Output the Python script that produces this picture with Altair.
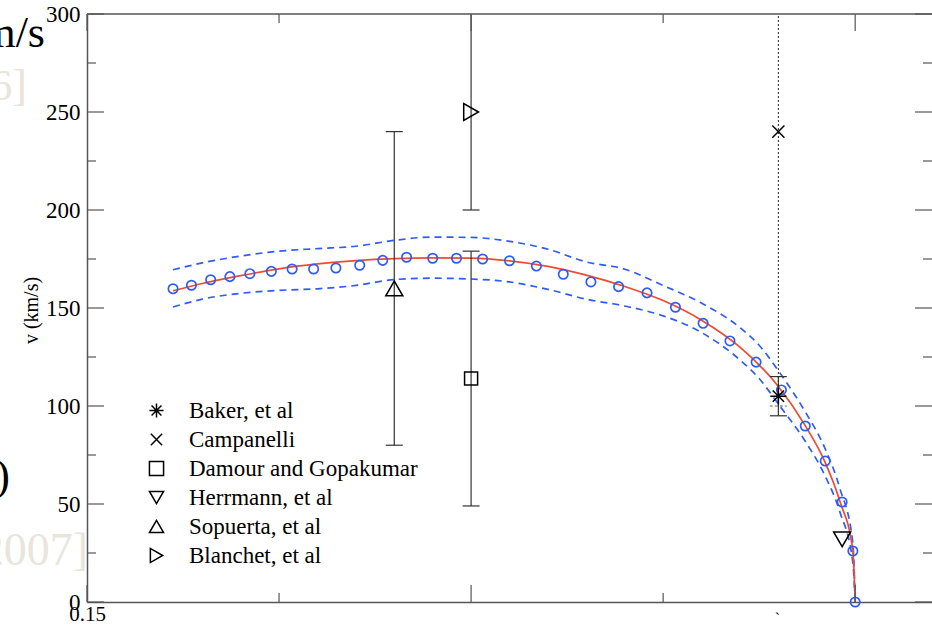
import altair as alt
import pandas as pd

W, H = 845, 588
BLUE = "#2f5cf5"
RED = "#ee4b33"
AXC = "#555555"
BAR = "#333333"
SERIF = "Liberation Serif"

# ---------------- data ----------------
# model points (blue open circles)
eta_pts = [0.1612, 0.1636, 0.1661, 0.1686, 0.1712, 0.1740, 0.1767, 0.1795, 0.1824,
           0.1855, 0.1885, 0.1916, 0.1950, 0.1981, 0.2015, 0.2050, 0.2085, 0.2120,
           0.2156, 0.2192, 0.2229, 0.2266, 0.2302, 0.2337, 0.2371, 0.2404, 0.2435,
           0.2461, 0.2483, 0.2497, 0.2500]
v_pts = [159.8, 161.6, 164.4, 166.0, 167.5, 168.7, 169.9, 169.9, 170.4,
         171.8, 174.3, 175.9, 175.4, 175.4, 175.0, 174.1, 171.4, 167.2,
         163.3, 160.9, 157.7, 150.4, 142.2, 133.2, 122.4, 108.2, 89.8,
         71.9, 51.0, 26.0, 0.0]

# fitted curve (red)
eta_fit = [0.1612, 0.165, 0.170, 0.175, 0.180, 0.185, 0.190, 0.195, 0.200, 0.205,
           0.210, 0.215, 0.220, 0.225, 0.230, 0.235, 0.240, 0.2435, 0.246, 0.248,
           0.2497, 0.250]
v_fit = [158.8, 162.5, 166.5, 170.0, 172.5, 174.2, 175.2, 175.6, 175.4, 174.0,
         171.2, 166.8, 161.0, 153.8, 143.8, 130.0, 110.0, 90.0, 72.0, 51.5,
         26.0, 0.0]

# error band (blue dashed)
eta_band = [0.1612, 0.165, 0.170, 0.175, 0.180, 0.185, 0.190, 0.195, 0.200, 0.205,
            0.210, 0.215, 0.220, 0.225, 0.230, 0.235, 0.2375, 0.240, 0.2435, 0.246,
            0.248, 0.2497, 0.250]
v_upper = [169.5, 173.0, 176.5, 179.0, 180.3, 181.5, 184.5, 186.2, 186.0, 184.0,
           180.0, 173.5, 169.8, 161.5, 152.5, 140.0, 131.0, 118.0, 97.0, 79.0,
           58.0, 30.0, 0.0]
v_lower = [150.5, 154.5, 157.5, 159.0, 159.8, 161.5, 164.5, 165.2, 164.8, 163.3,
           159.5, 154.5, 151.0, 146.0, 137.5, 123.5, 114.0, 101.0, 82.0, 65.0,
           46.0, 20.0, 0.0]

# other results
study = ["Baker, et al", "Campanelli", "Damour and Gopakumar",
         "Herrmann, et al", "Sopuerta, et al", "Blanchet, et al"]
study_eta = [0.240, 0.240, 0.200, 0.2483, 0.190, 0.200]
study_v = [105, 240, 114, 32, 160, 250]

bar_eta = [0.240, 0.200, 0.190, 0.200]
bar_lo = [95, 49, 80, 200]
bar_hi = [115, 179, 240, 300]
cap_eta = [0.240, 0.240, 0.200, 0.200, 0.190, 0.190, 0.200]
cap_v = [95, 115, 49, 179, 80, 240, 200]

dot_eta = [0.240]
dot_lo = [100]
dot_hi = [300]

y_major = [0, 50, 100, 150, 200, 250, 300]
y_minor = [25, 75, 125, 175, 225, 275]
x_major = [0.15, 0.20, 0.25]
x_minor = [0.175, 0.225]

shapes = ["M-1,0L1,0M0,-1L0,1M-0.7,-0.7L0.7,0.7M-0.7,0.7L0.7,-0.7",
          "M-0.8,-0.8L0.8,0.8M-0.8,0.8L0.8,-0.8",
          "square", "triangle-down", "triangle-up", "triangle-right"]
# marker size per group of studies
size_groups = [(["Baker, et al"], 260),
               (["Campanelli"], 230),
               (["Damour and Gopakumar"], 170),
               (["Herrmann, et al", "Sopuerta, et al", "Blanchet, et al"], 290)]

# ---------------- chart ----------------
xs = alt.Scale(domain=[0.15, 0.26], nice=False, zero=False)
ys = alt.Scale(domain=[0, 300], nice=False, zero=False)

pts_df = pd.DataFrame({"eta": eta_pts, "v": v_pts})
fit_df = pd.DataFrame({"eta": eta_fit, "v": v_fit})
band_df = pd.DataFrame({
    "eta": eta_band + eta_band,
    "v": v_upper + v_lower,
    "which": ["upper"] * len(eta_band) + ["lower"] * len(eta_band),
})
st_df = pd.DataFrame({"study": study, "eta": study_eta, "v": study_v})
bar_df = pd.DataFrame({"eta": bar_eta, "lo": bar_lo, "hi": bar_hi})
cap_df = pd.DataFrame({"eta": cap_eta, "v": cap_v})
dot_df = pd.DataFrame({"eta": dot_eta, "lo": dot_lo, "hi": dot_hi})

x_axis = alt.Axis(values=[0.15], format=".2f", ticks=False, grid=False,
                  domainColor=AXC, domainWidth=1.5, labelFont=SERIF,
                  labelFontSize=21, labelColor="black", labelPadding=1,
                  labelFlush=False, labelBaseline="top", title=None)
y_axis = alt.Axis(values=y_major, ticks=False, grid=False, domainColor=AXC,
                  domainWidth=1.5, labelFont=SERIF, labelFontSize=23,
                  labelColor="black", labelPadding=7, labelFlush=False,
                  title="v (km/s)", titleFont=SERIF, titleFontSize=20,
                  titleFontWeight="normal", titleColor="black",
                  titleAngle=-90, titleAlign="center", titleBaseline="middle",
                  titleX=-56, titleY=296)

band = alt.Chart(band_df).mark_line(
    color=BLUE, strokeDash=[7, 5], strokeWidth=1.7, interpolate="monotone"
).encode(
    x=alt.X("eta:Q", scale=xs, axis=x_axis),
    y=alt.Y("v:Q", scale=ys, axis=y_axis),
    detail="which:N",
)

fit = alt.Chart(fit_df).mark_line(
    color=RED, strokeWidth=1.7, interpolate="monotone"
).encode(x=alt.X("eta:Q", scale=xs), y=alt.Y("v:Q", scale=ys))

pts = alt.Chart(pts_df).mark_point(
    shape="circle", filled=False, size=88, strokeWidth=1.7, color=BLUE, opacity=1
).encode(x=alt.X("eta:Q", scale=xs), y=alt.Y("v:Q", scale=ys))

bars = alt.Chart(bar_df).mark_rule(color=BAR, strokeWidth=1.2).encode(
    x=alt.X("eta:Q", scale=xs), y=alt.Y("lo:Q", scale=ys), y2="hi:Q")

caps = alt.Chart(cap_df).mark_rule(
    color=BAR, strokeWidth=1.2, xOffset=-8.5, x2Offset=8.5
).encode(x=alt.X("eta:Q", scale=xs), x2="eta:Q", y=alt.Y("v:Q", scale=ys))

dots = alt.Chart(dot_df).mark_rule(
    color="#222222", strokeWidth=1, strokeDash=[2, 2]
).encode(x=alt.X("eta:Q", scale=xs), y=alt.Y("lo:Q", scale=ys), y2="hi:Q")

dotcap = alt.Chart(dot_df).mark_rule(
    color="#666666", strokeWidth=1, strokeDash=[3, 2], xOffset=-8.5, x2Offset=8.5
).encode(x=alt.X("eta:Q", scale=xs), x2="eta:Q", y=alt.Y("lo:Q", scale=ys))

shape_scale = alt.Scale(domain=study, range=shapes)
legend = alt.Legend(
    title=None, orient="none", legendX=58, legendY=385,
    labelFont=SERIF, labelFontSize=23, labelColor="black",
    labelOffset=21, labelLimit=400, symbolSize=200,
    symbolStrokeWidth=1.5, symbolStrokeColor="black",
    rowPadding=5, padding=0, symbolFillColor="transparent",
)
marker_layers = []
for i, (names, sz) in enumerate(size_groups):
    marker_layers.append(
        alt.Chart(st_df).transform_filter(
            alt.FieldOneOfPredicate(field="study", oneOf=names)
        ).mark_point(
            filled=False, strokeWidth=1.5, color="black", opacity=1, size=sz
        ).encode(
            x=alt.X("eta:Q", scale=xs),
            y=alt.Y("v:Q", scale=ys),
            shape=alt.Shape("study:N", scale=shape_scale,
                            legend=legend if i == 0 else None),
        )
    )

tick_rows_ymaj = pd.DataFrame({"v": y_major})
tick_rows_ymin = pd.DataFrame({"v": y_minor})
tick_rows_xmaj = pd.DataFrame({"eta": x_major})
tick_rows_xmin = pd.DataFrame({"eta": x_minor})


def yticks(df, length):
    left = alt.Chart(df).mark_rule(color=AXC, strokeWidth=1.2).encode(
        y=alt.Y("v:Q", scale=ys), x=alt.value(0), x2=alt.value(length))
    right = alt.Chart(df).mark_rule(color=AXC, strokeWidth=1.2).encode(
        y=alt.Y("v:Q", scale=ys), x=alt.value(W - length), x2=alt.value(W))
    return [left, right]


def xticks(df, length):
    bottom = alt.Chart(df).mark_rule(color=AXC, strokeWidth=1.2).encode(
        x=alt.X("eta:Q", scale=xs), y=alt.value(H), y2=alt.value(H - length))
    top = alt.Chart(df).mark_rule(color=AXC, strokeWidth=1.2).encode(
        x=alt.X("eta:Q", scale=xs), y=alt.value(0), y2=alt.value(length))
    return [bottom, top]


top_border = alt.Chart(pd.DataFrame({"k": [0]})).mark_rule(
    color=AXC, strokeWidth=1.5
).encode(x=alt.value(0), x2=alt.value(W), y=alt.value(0))

# fragments of slide text visible behind the graph
frag_df = pd.DataFrame({
    "t": ["km/s", "[2006]", "(a)", "[2007]", "`"],
    "x": [-42, -60, -77, 1, 693],
    "y": [33, 86, 476, 551, 610],
    "c": ["black", "#e9e5dc", "black", "#e9e5dc", "black"],
    "s": [44, 44, 44, 46, 16],
})
frags = alt.Chart(frag_df).mark_text(
    font=SERIF, align="right", baseline="alphabetic"
).encode(
    text="t:N",
    x=alt.X("x:Q", scale=None),
    y=alt.Y("y:Q", scale=None),
    color=alt.Color("c:N", scale=None),
    size=alt.Size("s:Q", scale=None),
)

chart = alt.layer(
    frags, band, fit, pts, bars, caps, dots, dotcap, *marker_layers,
    *yticks(tick_rows_ymaj, 17), *yticks(tick_rows_ymin, 9),
    *xticks(tick_rows_xmaj, 17), *xticks(tick_rows_xmin, 9),
    top_border,
).properties(
    width=W, height=H,
    padding={"left": 87, "top": 14, "right": 0, "bottom": 28},
    autosize=alt.AutoSizeParams(type="none"),
    background="white",
).configure_view(stroke=None)

chart.save("out.html", embed_options={"renderer": "svg", "actions": False})
